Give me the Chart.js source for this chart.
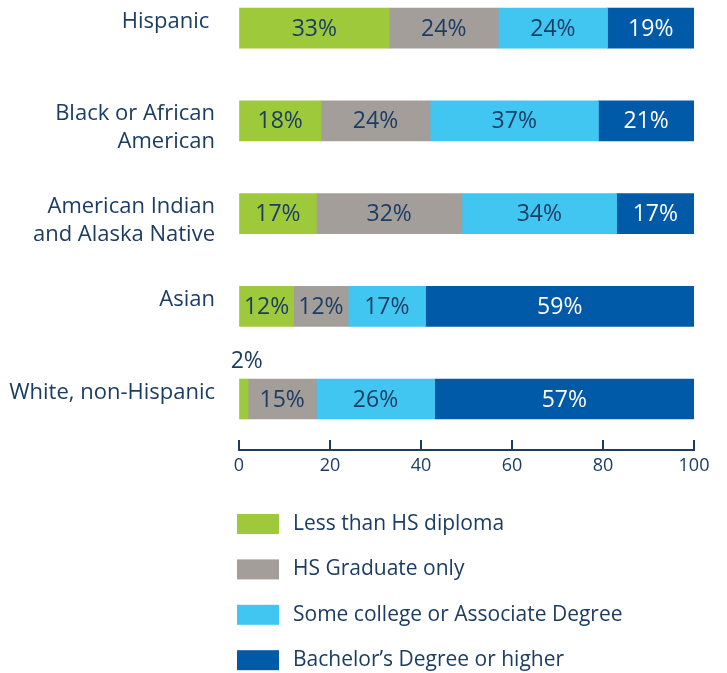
<!DOCTYPE html>
<html>
<head>
<meta charset="utf-8">
<script src="https://cdn.jsdelivr.net/npm/chart.js@4.4.1/dist/chart.umd.min.js"></script>
<style>
  html, body { margin: 0; padding: 0; background: #ffffff; }
  #wrap { position: relative; width: 727px; height: 673px; }
</style>
</head>
<body>
<div id="wrap"><canvas id="c"></canvas></div>
<script>
// ---- Data ----
const categories = [
  "Hispanic ",
  ["Black or African", "American"],
  ["American Indian", "and Alaska Native"],
  "Asian",
  "White, non-Hispanic"
];
const seriesNames = [
  "Less than HS diploma",
  "HS Graduate only",
  "Some college or Associate Degree",
  "Bachelor\u2019s Degree or higher"
];
const lessThanHS   = [33, 18, 17, 12, 2];
const hsGraduate   = [24, 24, 32, 12, 15];
const someCollege  = [24, 37, 34, 17, 26];
const bachelors    = [19, 21, 17, 59, 57];
const xTickValues  = [0, 20, 40, 60, 80, 100];

// ---- Styles ----
const NAVY = "#1c3d63";
const colors = ["#9dc93b", "#a39e99", "#41c6f1", "#005aa8"];
const labelColors = [NAVY, NAVY, NAVY, "#ffffff"];
Chart.defaults.font.family = "'Open Sans', sans-serif";
Chart.defaults.color = NAVY;

const seriesValues = [lessThanHS, hsGraduate, someCollege, bachelors];
const datasets = seriesValues.map((vals, s) => ({
  label: seriesNames[s],
  data: vals.map((v, i) => ({ x: v, y: i })),
  backgroundColor: colors[s],
  borderWidth: 0,
  barThickness: 40
}));

// Data labels (inside segments, small ones above the bar)
const dataLabelPlugin = {
  id: "dataLabels",
  afterDatasetsDraw(chart) {
    const ctx = chart.ctx;
    ctx.save();
    ctx.font = "23px 'Open Sans', sans-serif";
    ctx.textAlign = "center";
    ctx.textBaseline = "middle";
    chart.data.datasets.forEach((ds, s) => {
      const meta = chart.getDatasetMeta(s);
      meta.data.forEach((el, i) => {
        const v = ds.data[i].x;
        const cx = (el.x + el.base) / 2;
        ctx.fillStyle = labelColors[s];
        if (v < 5) {
          ctx.fillStyle = NAVY;
          ctx.fillText(v + "%", cx + 3, el.y - el.height / 2 - 18);
        } else {
          ctx.fillText(v + "%", cx, el.y + 1);
        }
      });
    });
    ctx.restore();
  }
};

// Upward tick marks on the x axis
const upTicksPlugin = {
  id: "upTicks",
  afterDraw(chart) {
    const x = chart.scales.x;
    const ctx = chart.ctx;
    const bottom = chart.chartArea.bottom;
    ctx.save();
    ctx.strokeStyle = NAVY;
    ctx.lineWidth = 2;
    x.ticks.forEach(t => {
      const px = Math.round(x.getPixelForValue(t.value));
      ctx.beginPath();
      ctx.moveTo(px, bottom);
      ctx.lineTo(px, bottom - 10);
      ctx.stroke();
    });
    ctx.restore();
  }
};

// Vertical legend below the chart
const legendPlugin = {
  id: "vLegend",
  afterDraw(chart) {
    const ctx = chart.ctx;
    const a = chart.chartArea;
    ctx.save();
    ctx.font = "21px 'Open Sans', sans-serif";
    ctx.textAlign = "left";
    ctx.textBaseline = "middle";
    chart.data.datasets.forEach((ds, s) => {
      const top = a.bottom + 64 + s * 45.4;
      ctx.fillStyle = ds.backgroundColor;
      ctx.fillRect(a.left - 2, top, 42, 20);
      ctx.fillStyle = NAVY;
      ctx.fillText(ds.label, a.left + 54, top + 10);
    });
    ctx.restore();
  }
};

const noPad = s => { s.paddingTop = 0; s.paddingBottom = 0; s.paddingLeft = 0; s.paddingRight = 0; };
// single-line labels sit a little above their bar, two-line ones a little below
const tickLabel = v => {
  const c = categories[v];
  return Array.isArray(c) ? c : [c, ""];
};

new Chart(document.getElementById("c"), {
  type: "bar",
  data: { datasets },
  plugins: [dataLabelPlugin, upTicksPlugin, legendPlugin],
  options: {
    indexAxis: "y",
    responsive: true,
    maintainAspectRatio: false,
    animation: false,
    layout: { padding: { top: 5, right: 33, bottom: 193, left: 0 } },
    plugins: { legend: { display: false }, tooltip: { enabled: false } },
    scales: {
      x: {
        type: "linear",
        stacked: true,
        min: 0,
        max: 100,
        afterBuildTicks: s => { s.ticks = xTickValues.map(v => ({ value: v })); },
        afterFit: s => { s.height = 30; noPad(s); },
        grid: { display: true, drawOnChartArea: false, drawTicks: false },
        border: { display: true, color: NAVY, width: 2 },
        ticks: { font: { size: 18 }, color: NAVY, padding: 5 }
      },
      y: {
        type: "linear",
        stacked: true,
        reverse: true,
        offset: false,
        min: -0.25,
        max: 4.55,
        afterBuildTicks: s => { s.ticks = categories.map((c, i) => ({ value: i })); },
        afterFit: s => { s.width = 239; noPad(s); },
        grid: { display: false, drawTicks: false },
        border: { display: false },
        ticks: {
          callback: tickLabel,
          font: { size: 22, lineHeight: 1.25 },
          color: NAVY,
          padding: 24,
          labelOffset: 7
        }
      }
    }
  }
});
</script>
</body>
</html>
